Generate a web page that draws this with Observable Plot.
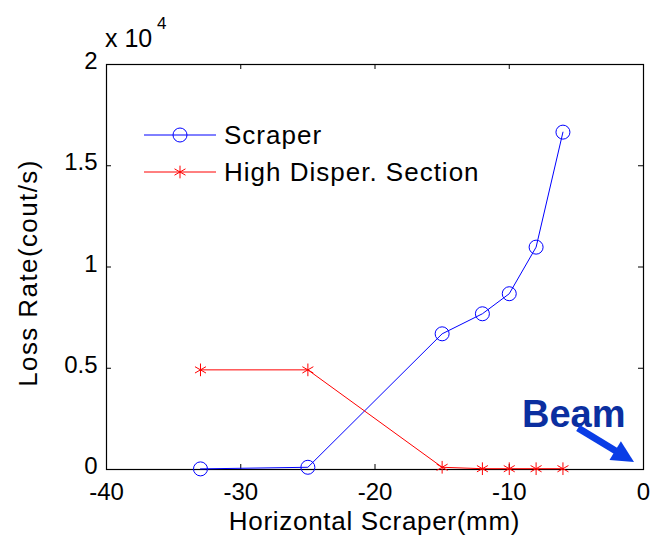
<!DOCTYPE html>
<html>
<head>
<meta charset="utf-8">
<script src="https://cdn.jsdelivr.net/npm/d3@7"></script>
<script src="https://cdn.jsdelivr.net/npm/@observablehq/plot@0.6"></script>
<style>
  html, body { margin: 0; padding: 0; background: #fff; }
</style>
</head>
<body>
<div id="chart"></div>
<script>
// Data
const scraperPos = [-33, -25, -15, -12, -10, -8, -6];     // Horizontal Scraper (mm)
const scraperLoss = [30, 110, 6700, 7690, 8680, 10980, 16660]; // Scraper loss rate (counts/s)
const hdsLoss = [4920, 4920, 110, 40, 40, 40, 40];          // High Disper. Section loss rate
const xTicks = [-40, -30, -20, -10, 0];
const yTicks = [0, 5000, 10000, 15000, 20000];
const seriesNames = ["Scraper", "High Disper. Section"];
const xLabel = "Horizontal Scraper(mm)";
const yLabel = "Loss Rate(cout/s)";

const scraper = scraperPos.map((x, i) => ({x, y: scraperLoss[i]}));
const hds = scraperPos.map((x, i) => ({x, y: hdsLoss[i]}));

const W = 652, H = 538;
const mL = 106, mR = 9, mT = 64, mB = 69;
const innerW = W - mL - mR, innerH = H - mT - mB;
const TL = 5; // inward tick length
const FONT = "'Liberation Sans', Arial, Helvetica, sans-serif";

const plot = Plot.plot({
  width: W, height: H,
  marginLeft: mL, marginRight: mR, marginTop: mT, marginBottom: mB,
  style: {fontFamily: FONT, fontSize: "24px", background: "white", color: "black", overflow: "visible"},
  x: {domain: [-40, 0]},
  y: {domain: [0, 20000]},
  marks: [
    // tick labels
    Plot.axisX({ticks: xTicks, tickSize: 0, tickPadding: 13, tickFormat: d => String(d), label: null}),
    Plot.axisY({ticks: yTicks, tickSize: 0, tickPadding: 9, dy: -3, tickFormat: d => String(d / 1e4), label: null}),
    // inward ticks on all four sides
    Plot.ruleX(xTicks, {x: d => d, insetTop: innerH - TL, stroke: "black"}),
    Plot.ruleX(xTicks, {x: d => d, insetBottom: innerH - TL, stroke: "black"}),
    Plot.ruleY(yTicks, {y: d => d, insetRight: innerW - TL, stroke: "black"}),
    Plot.ruleY(yTicks, {y: d => d, insetLeft: innerW - TL, stroke: "black"}),
    Plot.frame({stroke: "black", strokeWidth: 1.2}),
    // series
    Plot.line(scraper, {x: "x", y: "y", stroke: "#0000ff", strokeWidth: 1}),
    Plot.dot(scraper, {x: "x", y: "y", r: 7, stroke: "#0000ff", fill: "none", strokeWidth: 1}),
    Plot.line(hds, {x: "x", y: "y", stroke: "#ff0000", strokeWidth: 1}),
    Plot.dot(hds, {x: "x", y: "y", symbol: "asterisk", r: 6, stroke: "#ff0000", strokeWidth: 1})
  ]
});

document.getElementById("chart").appendChild(plot);

const svg = d3.select(plot);
const g = svg.append("g").attr("font-family", FONT).attr("fill", "black").attr("text-anchor", "start");

// exponent label
g.append("text").attr("x", 105).attr("y", 47).attr("font-size", 25).text("x 10");
g.append("text").attr("x", 157).attr("y", 29).attr("font-size", 17).text("4");

// axis labels
g.append("text").attr("x", (mL + W - mR) / 2).attr("y", 530)
  .attr("text-anchor", "middle").attr("font-size", 26).attr("letter-spacing", 0.7).text(xLabel);
g.append("text").attr("transform", "translate(37,273) rotate(-90)")
  .attr("text-anchor", "middle").attr("font-size", 26).attr("letter-spacing", 1.4).text(yLabel);

// legend
const leg = [
  {name: seriesNames[0], color: "#0000ff", y: 135, sym: d3.symbolCircle, r: 7},
  {name: seriesNames[1], color: "#ff0000", y: 172, sym: d3.symbolAsterisk, r: 6}
];
leg.forEach(l => {
  g.append("line").attr("x1", 144).attr("x2", 216).attr("y1", l.y).attr("y2", l.y)
    .attr("stroke", l.color).attr("stroke-width", 1);
  g.append("path").attr("transform", `translate(180,${l.y})`)
    .attr("d", d3.symbol(l.sym, l.r * l.r * Math.PI)())
    .attr("fill", "none").attr("stroke", l.color).attr("stroke-width", 1);
  g.append("text").attr("x", 224).attr("y", l.y).attr("dy", "0.35em")
    .attr("font-size", 26).attr("letter-spacing", 1.0).text(l.name);
});

// Beam annotation
g.append("text").attr("x", 522).attr("y", 427).attr("font-size", 38).attr("font-weight", "bold")
  .attr("fill", "#0b2fa0").text("Beam");
const ax0 = [578, 428], tip = [634, 462];
const dx = tip[0] - ax0[0], dy = tip[1] - ax0[1], len = Math.hypot(dx, dy);
const ux = dx / len, uy = dy / len, hl = 22, hw = 11;
const bx = tip[0] - ux * hl, by = tip[1] - uy * hl;
g.append("line").attr("x1", ax0[0]).attr("y1", ax0[1]).attr("x2", bx + ux * 2).attr("y2", by + uy * 2)
  .attr("stroke", "#0a3de6").attr("stroke-width", 7);
g.append("path").attr("d", `M${tip[0]},${tip[1]}L${bx - uy * hw},${by + ux * hw}L${bx + uy * hw},${by - ux * hw}Z`)
  .attr("fill", "#0a3de6");
</script>
</body>
</html>
